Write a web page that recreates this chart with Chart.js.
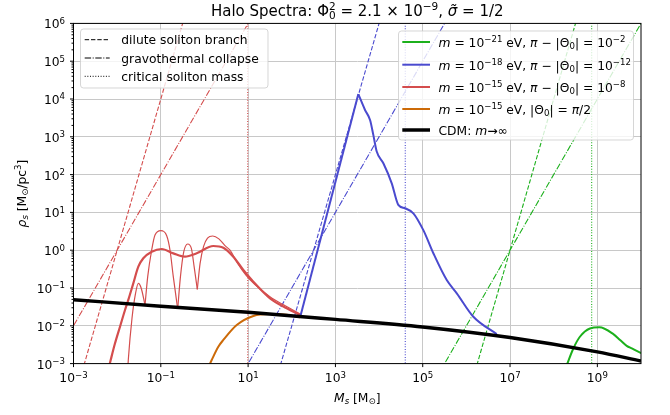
<!DOCTYPE html>
<html>
<head>
<meta charset="utf-8">
<script src="https://cdn.jsdelivr.net/npm/chart.js@4/dist/chart.umd.min.js"></script>
<style>
  html, body { margin: 0; padding: 0; background: #fff; }
  canvas { display: block; }
</style>
</head>
<body>
<canvas id="c" width="670" height="415"></canvas>
<script>
// ---- values (log10 of halo mass M_s [M_sun] and density rho_s [M_sun/pc^3]) ----
const xTickExp = [-3, -1, 1, 3, 5, 7, 9];
const yTickExp = [-3, -2, -1, 0, 1, 2, 3, 4, 5, 6];

// CDM: m -> infinity
const cdmLogM   = [-3, -1, 1, 3, 5, 7, 9, 10];
const cdmLogRho = [-1.31, -1.48, -1.64, -1.83, -2.03, -2.31, -2.69, -2.93];

// m = 1e-15 eV, pi - |Theta0| = 1e-8 (smooth spectrum)
const redLogM   = [-2.19, -2.148, -2.049, -1.935, -1.82, -1.745, -1.63, -1.515, -1.401, -1.209, -0.979, -0.714, -0.446, -0.178, 0.203, 0.432, 0.661, 0.89, 1.119, 1.502, 1.884, 2.189];
const redLogRho = [-3.1, -2.905, -2.463, -2.024, -1.582, -1.315, -0.876, -0.436, -0.214, -0.04, 0.032, -0.083, -0.172, -0.083, 0.111, 0.066, -0.172, -0.524, -0.833, -1.273, -1.537, -1.714];

// m = 1e-15 eV, pi - |Theta0| = 1e-8 (oscillating spectrum, one arc per lobe)
const redOscLogM = [
  [-1.76, -1.745, -1.66, -1.58, -1.515, -1.45, -1.362],
  [-1.362, -1.30, -1.209, -1.133, -1.0, -0.865, -0.79, -0.714, -0.613],
  [-0.613, -0.55, -0.476, -0.384, -0.30, -0.235, -0.164],
  [-0.164, -0.10, -0.02, 0.07, 0.189, 0.33, 0.47, 0.585, 0.75, 0.95, 1.15, 1.50, 1.85, 2.19]
];
const redOscLogRho = [
  [-3.2, -2.905, -1.80, -1.15, -0.876, -1.0, -1.45],
  [-1.45, -0.70, 0.005, 0.40, 0.516, 0.38, 0.005, -0.70, -1.555],
  [-1.555, -0.70, -0.05, 0.164, 0.05, -0.45, -1.035],
  [-1.035, -0.35, 0.10, 0.32, 0.376, 0.30, 0.12, 0.0, -0.33, -0.66, -0.90, -1.23, -1.47, -1.69]
];

// m = 1e-15 eV, |Theta0| = pi/2
const orangeLogM   = [0.09, 0.166, 0.317, 0.432, 0.739, 1.12, 1.50, 1.884, 2.19];
const orangeLogRho = [-3.1, -2.905, -2.553, -2.375, -1.98, -1.74, -1.69, -1.71, -1.775];

// m = 1e-18 eV, pi - |Theta0| = 1e-12
const blueRiseLogM   = [2.19, 3.525];
const blueRiseLogRho = [-1.78, 4.13];
const blueFallLogM   = [3.525, 3.678, 3.795, 3.868, 3.946, 4.098, 4.29, 4.44, 4.597, 4.785, 5.014, 5.243, 5.55, 5.78, 6.16, 6.695];
const blueFallLogRho = [4.13, 3.71, 3.44, 3.05, 2.61, 2.30, 1.77, 1.20, 1.11, 0.976, 0.53, -0.08, -0.79, -1.14, -1.76, -2.22];

// m = 1e-21 eV, pi - |Theta0| = 1e-2
const greenLogM   = [8.28, 8.45, 8.6, 8.83, 9.045, 9.367, 9.52, 9.673, 9.79, 9.98, 10.05];
const greenLogRho = [-3.1, -2.6, -2.29, -2.07, -2.04, -2.22, -2.375, -2.53, -2.60, -2.71, -2.74];

// dilute soliton branches (rho ~ M^4) and gravothermal collapse (rho ~ M^2)
const branchLogRho     = [-3.2, 6.2];
const redDiluteLogM    = [-2.8, -0.45];
const redCollapseLogM  = [-3.6, 1.1];
const blueDiluteLogM   = [1.7, 4.05];
const blueCollapseLogM = [0.9, 5.6];
const greenDiluteLogM  = [6.2, 8.55];
const greenCollapseLogM = [5.4, 10.1];

// critical soliton masses
const critLogM = { red: 0.99, blue: 4.6, green: 8.87 };

// ---- styles ----
const C = { red: '#d44d4d', blue: '#4a4acf', green: '#1cb01c', orange: '#cc6a08', black: '#000000' };
const DASH = [4.4, 1.9], DASHDOT = [6.4, 1.6, 1, 1.6], DOT = [1, 1.65];
const BRANCH_W = 1.1;

const pts = (lm, lr) => lm.map((m, i) => ({ x: Math.pow(10, m), y: Math.pow(10, lr[i]) }));
function line(lm, lr, color, width, extra) {
  return Object.assign({
    data: pts(lm, lr), borderColor: color, borderWidth: width,
    pointRadius: 0, fill: false, tension: 0, borderCapStyle: 'butt', borderJoinStyle: 'round'
  }, extra || {});
}
const smooth = { cubicInterpolationMode: 'monotone' };

const datasets = [
  line(cdmLogM, cdmLogRho, C.black, 3.5, Object.assign({ order: 0 }, smooth)),
  line(greenLogM, greenLogRho, C.green, 2, Object.assign({ order: 1 }, smooth)),
  line(blueRiseLogM, blueRiseLogRho, C.blue, 2, { order: 1 }),
  line(blueFallLogM, blueFallLogRho, C.blue, 2, Object.assign({ order: 1 }, smooth)),
  line(redLogM, redLogRho, C.red, 2.2, Object.assign({ order: 1 }, smooth)),
  ...redOscLogM.map((lm, i) => line(lm, redOscLogRho[i], C.red, 1.2, Object.assign({ order: 1 }, smooth))),
  line(orangeLogM, orangeLogRho, C.orange, 2, Object.assign({ order: 1 }, smooth)),
  line(redDiluteLogM, branchLogRho, C.red, BRANCH_W, { order: 2, borderDash: DASH }),
  line(redCollapseLogM, branchLogRho, C.red, BRANCH_W, { order: 2, borderDash: DASHDOT }),
  line(blueDiluteLogM, branchLogRho, C.blue, BRANCH_W, { order: 2, borderDash: DASH }),
  line(blueCollapseLogM, branchLogRho, C.blue, BRANCH_W, { order: 2, borderDash: DASHDOT }),
  line(greenDiluteLogM, branchLogRho, C.green, BRANCH_W, { order: 2, borderDash: DASH }),
  line(greenCollapseLogM, branchLogRho, C.green, BRANCH_W, { order: 2, borderDash: DASHDOT }),
  line([critLogM.red, critLogM.red], branchLogRho, C.red, BRANCH_W, { order: 2, borderDash: DOT }),
  line([critLogM.blue, critLogM.blue], branchLogRho, C.blue, BRANCH_W, { order: 2, borderDash: DOT }),
  line([critLogM.green, critLogM.green], branchLogRho, C.green, BRANCH_W, { order: 2, borderDash: DOT })
];

// ---- rich text (superscripts, subscripts, italics) ----
const FONT = '"DejaVu Sans", "Noto Sans", sans-serif';
function layoutRich(ctx, parts, size) {
  let x = 0, pending = 0;
  const items = [];
  for (const p of parts) {
    const t = p[0], f = p[1] || '';
    const script = f.includes('^') || f.includes('_');
    const sz = script ? size * 0.7 : size;
    const font = (f.includes('i') ? 'italic ' : '') + sz.toFixed(2) + 'px ' + FONT;
    ctx.font = font;
    const w = ctx.measureText(t).width;
    const dy = f.includes('^') ? -size * 0.37 : (f.includes('_') ? size * 0.2 : 0);
    items.push({ t, font, x, dy });
    if (f.includes('|')) pending = Math.max(pending, w);
    else { x += Math.max(pending, w); pending = 0; }
  }
  return { items, width: x };
}
function drawRich(ctx, parts, x, y, size, align, color) {
  const L = layoutRich(ctx, parts, size);
  const x0 = align === 'center' ? x - L.width / 2 : (align === 'right' ? x - L.width : x);
  ctx.fillStyle = color || '#000';
  ctx.textAlign = 'left';
  ctx.textBaseline = 'alphabetic';
  for (const it of L.items) { ctx.font = it.font; ctx.fillText(it.t, x0 + it.x, y + it.dy); }
}
const powParts = e => [['10'], [(e < 0 ? '\u2212' : '') + Math.abs(e), '^']];

const titleParts = [['Halo Spectra: '], ['\u03A6'], ['2', '^|'], ['0', '_'], [' = 2.1 \u00D7 10'], ['\u22129', '^'], [', '], ['\u03C3\u0303', 'i'], [' = 1/2']];
const xLabelParts = [['M', 'i'], ['s', '_i'], [' [M'], ['\u2299', '_'], [']']];
const yLabelParts = [['\u03C1', 'i'], ['s', '_i'], [' [M'], ['\u2299', '_'], ['/pc'], ['3', '^'], [']']];

const styleLegend = [
  { dash: DASH, text: 'dilute soliton branch' },
  { dash: DASHDOT, text: 'gravothermal collapse' },
  { dash: DOT, text: 'critical soliton mass' }
];
const modelLegend = [
  { color: C.green, width: 2, parts: [['m', 'i'], [' = 10'], ['\u221221', '^'], [' eV, '], ['\u03C0', 'i'], [' \u2212 |\u0398'], ['0', '_'], ['| = 10'], ['\u22122', '^']] },
  { color: C.blue, width: 2, parts: [['m', 'i'], [' = 10'], ['\u221218', '^'], [' eV, '], ['\u03C0', 'i'], [' \u2212 |\u0398'], ['0', '_'], ['| = 10'], ['\u221212', '^']] },
  { color: C.red, width: 2, parts: [['m', 'i'], [' = 10'], ['\u221215', '^'], [' eV, '], ['\u03C0', 'i'], [' \u2212 |\u0398'], ['0', '_'], ['| = 10'], ['\u22128', '^']] },
  { color: C.orange, width: 2, parts: [['m', 'i'], [' = 10'], ['\u221215', '^'], [' eV, |\u0398'], ['0', '_'], ['| = '], ['\u03C0', 'i'], ['/2']] },
  { color: C.black, width: 3.5, parts: [['CDM: '], ['m', 'i'], ['\u2192\u221E']] }
];

function legendFrame(ctx, x0, y0, x1, y1) {
  ctx.beginPath();
  ctx.roundRect(x0, y0, x1 - x0, y1 - y0, 3);
  ctx.fillStyle = 'rgba(255,255,255,0.8)';
  ctx.fill();
  ctx.strokeStyle = 'rgba(204,204,204,0.8)';
  ctx.lineWidth = 1;
  ctx.stroke();
}

const decorations = {
  id: 'decorations',
  afterDraw(chart) {
    const { ctx, chartArea: a, scales } = chart;
    const xs = scales.x, ys = scales.y;
    ctx.save();
    // frame
    ctx.setLineDash([]);
    ctx.strokeStyle = '#000';
    ctx.lineWidth = 1;
    ctx.strokeRect(a.left, a.top, a.right - a.left, a.bottom - a.top);
    // ticks
    ctx.beginPath();
    for (const e of xTickExp) {
      const px = xs.getPixelForValue(Math.pow(10, e));
      ctx.moveTo(px, a.bottom); ctx.lineTo(px, a.bottom + 3.5);
    }
    for (const e of yTickExp) {
      const py = ys.getPixelForValue(Math.pow(10, e));
      ctx.moveTo(a.left - 3.5, py); ctx.lineTo(a.left, py);
      if (e < yTickExp[yTickExp.length - 1]) {
        for (let k = 2; k <= 9; k++) {
          const pm = ys.getPixelForValue(k * Math.pow(10, e));
          ctx.moveTo(a.left - 2, pm); ctx.lineTo(a.left, pm);
        }
      }
    }
    ctx.stroke();
    // tick labels
    const TS = 12.3;
    for (const e of xTickExp) {
      drawRich(ctx, powParts(e), xs.getPixelForValue(Math.pow(10, e)), a.bottom + 18.7, TS, 'center');
    }
    for (const e of yTickExp) {
      drawRich(ctx, powParts(e), a.left - 8.5, ys.getPixelForValue(Math.pow(10, e)) + 5, TS, 'right');
    }
    // axis labels
    const cx = (a.left + a.right) / 2, cy = (a.top + a.bottom) / 2;
    drawRich(ctx, xLabelParts, cx, a.bottom + 38, TS, 'center');
    ctx.save();
    ctx.translate(25.5, cy);
    ctx.rotate(-Math.PI / 2);
    drawRich(ctx, yLabelParts, 0, 0, TS, 'center');
    ctx.restore();
    // title
    drawRich(ctx, titleParts, cx, 15.5, 15, 'center');

    // line-style legend
    legendFrame(ctx, 80.5, 29, 268, 88);
    styleLegend.forEach((r, i) => {
      const yy = 39.7 + i * 18.3;
      ctx.beginPath();
      ctx.setLineDash(r.dash);
      ctx.strokeStyle = '#000';
      ctx.lineWidth = 1;
      ctx.moveTo(84.7, yy); ctx.lineTo(109.7, yy);
      ctx.stroke();
      ctx.setLineDash([]);
      drawRich(ctx, [[r.text]], 121.3, yy + 4.5, TS, 'left');
    });

    // model legend
    legendFrame(ctx, 398.5, 31, 633.5, 140);
    const rowY = [42, 64.7, 87, 109, 130];
    modelLegend.forEach((r, i) => {
      const yy = rowY[i];
      ctx.beginPath();
      ctx.setLineDash([]);
      ctx.strokeStyle = r.color;
      ctx.lineWidth = r.width;
      ctx.moveTo(402.3, yy); ctx.lineTo(430, yy);
      ctx.stroke();
      drawRich(ctx, r.parts, 438.5, yy + (i < 4 ? 5 : 4.5), TS, 'left');
    });
    ctx.restore();
  }
};

new Chart(document.getElementById('c'), {
  type: 'line',
  data: { datasets },
  options: {
    responsive: false,
    devicePixelRatio: 1,
    animation: false,
    events: [],
    layout: { padding: { left: 0, right: 29, top: 23.4, bottom: 0 } },
    plugins: { legend: { display: false }, tooltip: { enabled: false }, title: { display: false } },
    scales: {
      x: {
        type: 'logarithmic', min: 1e-3, max: 1e10,
        afterBuildTicks: s => { s.ticks = xTickExp.map(e => ({ value: Math.pow(10, e) })); },
        afterFit: s => { s.height = 51.4; },
        ticks: { display: false },
        grid: { color: '#c8c8c8', lineWidth: 1, drawTicks: false },
        border: { display: false }
      },
      y: {
        type: 'logarithmic', min: 1e-3, max: 1e6,
        afterBuildTicks: s => { s.ticks = yTickExp.map(e => ({ value: Math.pow(10, e) })); },
        afterFit: s => { s.width = 73.5; },
        ticks: { display: false },
        grid: { color: '#c8c8c8', lineWidth: 1, drawTicks: false },
        border: { display: false }
      }
    }
  },
  plugins: [decorations]
});
</script>
</body>
</html>
